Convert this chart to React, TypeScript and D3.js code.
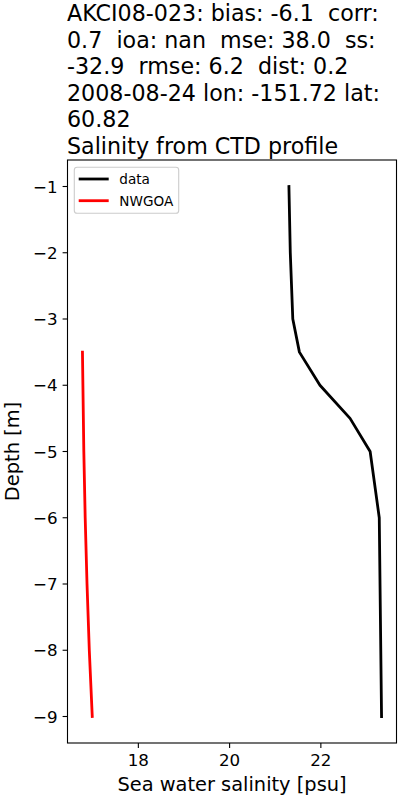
import React from "react";
import * as d3 from "d3";

const titleLines = [
  "AKCI08-023: bias: -6.1  corr:",
  "0.7  ioa: nan  mse: 38.0  ss:",
  "-32.9  rmse: 6.2  dist: 0.2",
  "2008-08-24 lon: -151.72 lat:",
  "60.82",
  "Salinity from CTD profile",
];

const dataDepth = [-1, -2, -3, -3.5, -4, -4.5, -5, -6, -9];
const dataSal = [21.3, 21.33, 21.385, 21.53, 21.98, 22.64, 23.08, 23.28, 23.33];

const modelDepth = [-3.5, -4, -5, -6, -7, -8, -9];
const modelSal = [16.775, 16.785, 16.805, 16.835, 16.875, 16.925, 16.99];

const xTicks = [18, 20, 22];
const yTicks = [-1, -2, -3, -4, -5, -6, -7, -8, -9];

const seriesNames = ["data", "NWGOA"];
const seriesColors = ["#000000", "#ff0000"];

const FONT = "DejaVu Sans, sans-serif";

export default function App() {
  const left = 67.5, right = 396.5, top = 160, bottom = 743;

  const allX = [...dataSal, ...modelSal];
  const allY = [...dataDepth, ...modelDepth];
  const [xmin, xmax] = d3.extent(allX) as [number, number];
  const [ymin, ymax] = d3.extent(allY) as [number, number];
  const xr = xmax - xmin, yr = ymax - ymin;
  const x = d3.scaleLinear().domain([xmin - 0.05 * xr, xmax + 0.05 * xr]).range([left, right]);
  const y = d3.scaleLinear().domain([ymin - 0.05 * yr, ymax + 0.05 * yr]).range([bottom, top]);

  const line = d3
    .line<[number, number]>()
    .x((d) => x(d[0]))
    .y((d) => y(d[1]));

  const dataPts: [number, number][] = dataSal.map((s, i) => [s, dataDepth[i]]);
  const modelPts: [number, number][] = modelSal.map((s, i) => [s, modelDepth[i]]);
  const series = [dataPts, modelPts];

  const minus = (v: number) => (v < 0 ? "\u2212" + Math.abs(v) : String(v));

  return (
    <svg
      width={400}
      height={800}
      style={{ position: "absolute", left: 0, top: 0, background: "#fff" }}
      fontFamily={FONT}
    >
      <rect x={0} y={0} width={400} height={800} fill="#fff" />
      {titleLines.map((t, i) => (
        <text key={i} x={left - 0.5} y={154 - (titleLines.length - 1 - i) * 26.6} fontSize={22.2} fill="#000" style={{ whiteSpace: "pre" }}>
          {t}
        </text>
      ))}

      {series.map((pts, i) => (
        <path key={i} d={line(pts) || ""} fill="none" stroke={seriesColors[i]} strokeWidth={2.8} strokeLinejoin="round" strokeLinecap="square" />
      ))}

      <rect x={left} y={top} width={right - left} height={bottom - top} fill="none" stroke="#000" strokeWidth={1.1} />

      {xTicks.map((t) => (
        <g key={t}>
          <line x1={x(t)} x2={x(t)} y1={bottom} y2={bottom + 4.9} stroke="#000" strokeWidth={1.1} />
          <text x={x(t)} y={766} fontSize={16.7} textAnchor="middle" fill="#000">
            {minus(t)}
          </text>
        </g>
      ))}
      {yTicks.map((t) => (
        <g key={t}>
          <line x1={left - 4.9} x2={left} y1={y(t)} y2={y(t)} stroke="#000" strokeWidth={1.1} />
          <text x={57.7} y={y(t) + 6} fontSize={16.7} textAnchor="end" fill="#000">
            {minus(t)}
          </text>
        </g>
      ))}

      <text x={(left + right) / 2} y={791} fontSize={19.4} textAnchor="middle" fill="#000">
        Sea water salinity [psu]
      </text>
      <text transform={`translate(19,${(top + bottom) / 2}) rotate(-90)`} fontSize={19.4} textAnchor="middle" fill="#000">
        Depth [m]
      </text>

      <g>
        <rect x={74.3} y={167.3} width={104.4} height={46} rx={2.8} fill="#fff" fillOpacity={0.8} stroke="#cccccc" strokeWidth={1.1} />
        {seriesNames.map((n, i) => (
          <g key={n}>
            <line x1={78.7} x2={108.7} y1={179 + i * 21.7} y2={179 + i * 21.7} stroke={seriesColors[i]} strokeWidth={2.8} />
            <text x={119.3} y={179 + i * 21.7 + 5} fontSize={13.6} fill="#000">
              {n}
            </text>
          </g>
        ))}
      </g>
    </svg>
  );
}
